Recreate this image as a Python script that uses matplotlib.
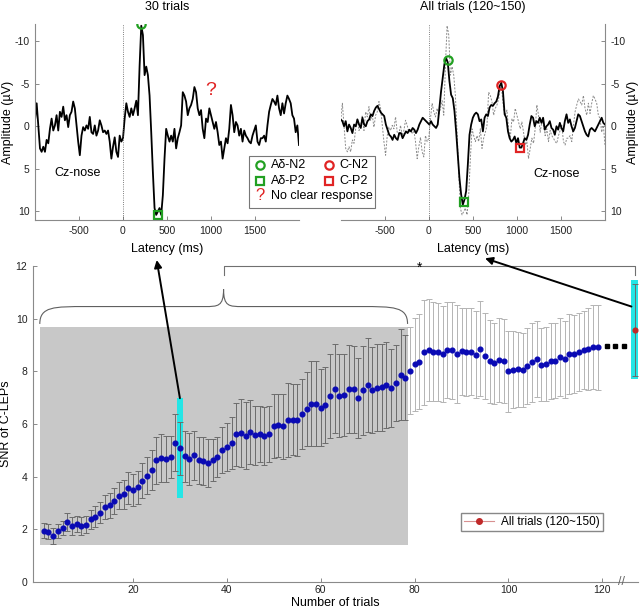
import numpy as np
import matplotlib
matplotlib.use('Agg')
import matplotlib.pyplot as plt
from matplotlib.path import Path
from matplotlib.patches import PathPatch, Rectangle
from matplotlib.lines import Line2D

plt.rcParams['font.family'] = ['Liberation Sans', 'DejaVu Sans']
plt.rcParams['axes.unicode_minus'] = False

# ---- data -------------------------------------------------------------
# 30-trial average waveform (uV), Cz-nose, -1000..2000 ms
amp_30 = [-0.7, -2.7, -0.1, 2.6, 3.0, 2.4, 3.0, 1.6, 2.0, 0.3,
          -0.9, 0.5, -0.1, -1.3, 0.5, -1.7, -1.1, -2.3, -0.7, -1.3,
          0.1, -1.3, -1.7, -2.9, -2.1, -0.1, 1.8, 3.4, 1.1, 0.1,
          0.5, -0.1, 0.3, -1.1, 0.7, 0.9, -0.1, 1.1, 0.5, -0.7,
          -0.1, 0.7, 0.5, 0.9, 0.5, 1.8, 3.8, 2.4, 1.3, 3.0,
          3.6, 1.1, 1.8, 1.4, -0.9, -2.7, -1.7, -1.1, -2.1, -1.3,
          -2.1, -3.0, -1.3, -7.1, -11.8, -10.7, -6.0, -7.0, -6.0, -3.6,
          0.7, 5.4, 9.6, 10.4, 10.0, 9.6, 10.4, 8.1, 3.8, 0.3,
          1.1, 1.8, 1.1, 1.8, 0.3, 2.6, 1.4, 0.7, -0.1, -4.0,
          -3.6, -2.9, -1.3, -2.1, -2.5, -3.2, -4.6, -4.0, -2.1, -1.3,
          -1.9, 0.3, 1.4, -0.9, -0.5, -2.1, -1.3, -0.5, 0.3, -0.5,
          0.7, 2.2, 1.8, 3.8, 2.6, 1.4, 2.0, 0.3, -2.5, -1.3,
          0.7, -0.5, -0.1, 1.1, 0.3, 1.8, 0.5, 1.1, 1.4, 1.8,
          2.0, 1.1, 0.5, -0.1, 1.8, 2.2, 1.4, 1.4, 1.1, 1.8,
          -0.1, -1.7, -2.5, -3.2, -2.9, -2.5, -3.6, -2.1, -1.3, -2.7,
          -1.5, -2.7, -3.6, -3.2, -2.7, -1.3, -0.9, 0.7, -0.1, 2.2]

# all-trial average waveform (uV)
amp_all = [-0.8, -0.6, 0.0, -0.6, 0.6, -0.2, 0.2, 0.8, -0.2, 0.0,
           -0.8, -0.2, 0.2, -1.0, -0.2, 0.0, -0.6, -0.8, -1.4, -1.2,
           -1.8, -2.2, -2.4, -2.0, -1.6, -1.4, -1.2, -0.2, 0.4, 1.0,
           1.2, 1.6, 1.0, 1.4, 1.6, 0.8, 0.8, 1.4, 1.0, 0.6,
           0.8, 0.4, 0.6, 0.2, 0.4, 0.8, 0.4, -0.2, -0.6, -1.0,
           -0.8, -0.6, -0.4, -0.2, -0.6, -0.2, 0.0, 0.2, -0.2, -2.2,
           -4.1, -5.7, -7.3, -8.0, -7.5, -5.3, -3.7, -3.3, -1.8, 0.6,
           3.3, 6.1, 8.0, 9.2, 8.6, 7.6, 4.5, 1.0, -0.2, -1.0,
           -1.4, -1.6, -1.4, -0.6, -0.8, 0.6, -1.0, -1.4, -1.2, -2.2,
           -2.5, -2.4, -2.7, -2.9, -3.5, -4.7, -5.1, -4.1, -1.4, -1.0,
           0.6, 1.4, 1.8, 1.6, 1.2, 2.0, 1.4, 2.5, 2.5, 2.0,
           1.4, 1.6, 1.0, -0.2, -1.2, -1.0, 0.0, -0.6, -0.4, -1.0,
           -0.4, -1.0, 0.4, 0.0, -0.2, -0.6, 0.2, 0.4, 1.0, 0.0,
           0.4, -0.4, 0.2, 0.6, -0.6, -1.4, -0.4, -0.8, 0.0, 0.6,
           0.2, -0.6, -1.4, -1.2, -0.6, 0.0, 0.6, 1.0, 1.2, 0.4,
           0.2, 0.4, 0.6, 0.2, -0.2, -0.6, -1.0, -0.4, -0.2]

lat_30 = np.linspace(-1000, 2000, len(amp_30))
lat_all = np.linspace(-1000, 2000, len(amp_all))

# peak markers (latency ms, amplitude uV)
n2_30 = (208, -12.0)
p2_30 = (398, 10.4)
n2_all = (220, -7.8)
p2_all = (397, 8.9)
cn2_all = (822, -4.9)
cp2_all = (1033, 2.6)

# SNR of C-LEPs vs number of trials
snr = [1.95, 1.91, 1.75, 1.95, 2.05, 2.29, 2.13, 2.20, 2.14, 2.18,
       2.38, 2.48, 2.63, 2.86, 2.91, 3.08, 3.28, 3.33, 3.56, 3.49,
       3.60, 3.85, 4.04, 4.25, 4.62, 4.71, 4.68, 4.75, 5.29, 5.08,
       4.77, 4.66, 4.81, 4.62, 4.61, 4.52, 4.62, 4.74, 5.01, 5.12,
       5.29, 5.61, 5.65, 5.56, 5.69, 5.57, 5.61, 5.55, 5.62, 5.92,
       5.95, 5.91, 6.15, 6.16, 6.15, 6.38, 6.58, 6.77, 6.77, 6.62,
       6.73, 7.05, 7.34, 7.08, 7.10, 7.33, 7.32, 7.00, 7.28, 7.48,
       7.29, 7.38, 7.39, 7.48, 7.37, 7.56, 7.87, 7.76, 8.03, 8.27,
       8.37, 8.72, 8.81, 8.75, 8.72, 8.65, 8.81, 8.80, 8.65, 8.76,
       8.74, 8.74, 8.63, 8.86, 8.58, 8.38, 8.30, 8.43, 8.38, 8.00,
       8.06, 8.08, 8.04, 8.20, 8.34, 8.46, 8.25, 8.28, 8.38, 8.41,
       8.53, 8.46, 8.65, 8.66, 8.75, 8.81, 8.86, 8.93, 8.91]
snr_err = [0.28, 0.29, 0.29, 0.27, 0.26, 0.34, 0.35, 0.32, 0.34, 0.32,
           0.36, 0.41, 0.40, 0.45, 0.48, 0.50, 0.52, 0.55, 0.60, 0.60,
           0.62, 0.66, 0.70, 0.76, 0.90, 0.92, 0.88, 0.80, 1.09, 1.01,
           0.98, 0.98, 0.92, 0.88, 0.91, 0.92, 0.80, 0.75, 0.87, 0.91,
           0.99, 1.20, 1.30, 1.28, 1.21, 1.11, 1.07, 1.11, 1.06, 1.22,
           1.19, 1.23, 1.40, 1.35, 1.36, 1.33, 1.41, 1.62, 1.62, 1.47,
           1.45, 1.60, 1.70, 1.58, 1.56, 1.67, 1.65, 1.52, 1.68, 1.80,
           1.62, 1.66, 1.65, 1.65, 1.47, 1.44, 1.73, 1.62, 1.64, 1.77,
           1.80, 1.99, 1.93, 1.87, 1.86, 1.83, 1.84, 1.85, 1.87, 1.66,
           1.68, 1.65, 1.66, 1.81, 1.62, 1.57, 1.55, 1.58, 1.59, 1.53,
           1.47, 1.43, 1.41, 1.43, 1.51, 1.45, 1.38, 1.42, 1.44, 1.41,
           1.48, 1.46, 1.52, 1.48, 1.48, 1.49, 1.56, 1.59, 1.61]
trials = np.arange(1, len(snr) + 1)

shade_trials = (0.15, 78.5)      # shaded window
shade_snr = (1.4, 9.67)
cyan_30 = (30, 3.18, 6.98)       # trial, low, high
all_x = 126.9                    # plotted position of "all trials" (after axis break)
all_snr, all_err = 9.57, 1.73
cyan_all = (7.7, 11.47)
dots_x = [121.0, 122.8, 124.6]   # continuation dots
dots_y = 8.96

green = '#22a022'
red = '#e02424'
spine_c = '#8a8a8a'

fig = plt.figure(figsize=(6.4, 6.12), dpi=100)
ax1 = fig.add_axes([35/640, 1-220/612, 264/640, 196/612])
ax2 = fig.add_axes([340.7/640, 1-220/612, 264.3/640, 196/612])
ax3 = fig.add_axes([33/640, 1-582/612, 605/640, 316/612])

def style(ax):
    for s in ax.spines.values():
        s.set_color(spine_c)
        s.set_linewidth(0.8)
    ax.tick_params(direction='in', length=3, width=0.7, color=spine_c,
                   labelsize=7.5, labelcolor='#222222', pad=4)

# ---- top left ---------------------------------------------------------
style(ax1)
ax1.plot(lat_30, amp_30, color='k', lw=1.3)
ax1.axvline(0, color='#555555', lw=0.6, ls=':')
ax1.plot(*n2_30, 'o', ms=6, mfc='none', mec=green, mew=1.6)
ax1.plot(*p2_30, 's', ms=6, mfc='none', mec=green, mew=1.6, clip_on=False)
ax1.text(1000, -4.2, '?', color=red, fontsize=14, ha='center', va='center')
ax1.text(-520, 5.5, 'Cz-nose', fontsize=9, ha='center', va='center')
ax1.set_xlim(-1000, 2000)
ax1.set_ylim(11, -12)
ax1.set_xticks([-500, 0, 500, 1000, 1500])
ax1.set_yticks([-10, -5, 0, 5, 10])
ax1.spines['top'].set_visible(False)
ax1.spines['right'].set_visible(False)
ax1.set_xlabel('Latency (ms)', fontsize=9, labelpad=5)
ax1.set_ylabel('Amplitude (\u00b5V)', fontsize=9, labelpad=0)
ax1.set_title('30 trials', fontsize=9, pad=10)

# ---- top right --------------------------------------------------------
style(ax2)
ax2.plot(lat_30, amp_30, color='#8a8a8a', lw=0.7, ls=(0, (2, 1.5)))
ax2.plot(lat_all, amp_all, color='k', lw=1.3)
ax2.axvline(0, color='#555555', lw=0.6, ls=':')
ax2.plot(*n2_all, 'o', ms=6, mfc='none', mec=green, mew=1.6)
ax2.plot(*p2_all, 's', ms=6, mfc='none', mec=green, mew=1.6)
ax2.plot(*cn2_all, 'o', ms=6, mfc='none', mec=red, mew=1.6)
ax2.plot(*cp2_all, 's', ms=6, mfc='none', mec=red, mew=1.6)
ax2.text(1450, 5.6, 'Cz-nose', fontsize=9, ha='center', va='center')
ax2.set_xlim(-1000, 2000)
ax2.set_ylim(11, -12)
ax2.set_xticks([-500, 0, 500, 1000, 1500])
ax2.set_yticks([-10, -5, 0, 5, 10])
ax2.spines['top'].set_visible(False)
ax2.spines['left'].set_visible(False)
ax2.yaxis.tick_right()
ax2.yaxis.set_label_position('right')
ax2.set_xlabel('Latency (ms)', fontsize=9, labelpad=5)
ax2.set_ylabel('Amplitude (\u00b5V)', fontsize=9, labelpad=1)
ax2.set_title('All trials (120~150)', fontsize=9, pad=10)

# ---- bottom -----------------------------------------------------------
style(ax3)
ax3.tick_params(axis='x', pad=2.5)
ax3.add_patch(Rectangle((shade_trials[0], shade_snr[0]),
                        shade_trials[1] - shade_trials[0],
                        shade_snr[1] - shade_snr[0],
                        facecolor='#c8c8c8', edgecolor='none', zorder=0.5))
ax3.bar(cyan_30[0], cyan_30[2] - cyan_30[1], bottom=cyan_30[1], width=1.45,
        color='#25e6e6', zorder=1.5)
ax3.bar(all_x, cyan_all[1] - cyan_all[0], bottom=cyan_all[0], width=1.5,
        color='#25e6e6', zorder=1.5, clip_on=False)

inside = trials <= 78
snr_a = np.array(snr)
err_a = np.array(snr_err)
ax3.errorbar(trials[inside], snr_a[inside], yerr=err_a[inside], fmt='none',
             ecolor='#6c6c6c', elinewidth=0.7, capsize=2, capthick=0.7, zorder=2)
ax3.errorbar(trials[~inside], snr_a[~inside], yerr=err_a[~inside], fmt='none',
             ecolor='#b4b4b4', elinewidth=0.7, capsize=2, capthick=0.7, zorder=2)
ax3.plot(trials, snr, 'o', color='#0a0ab4', ms=3.4, zorder=3)
ax3.plot(dots_x, [dots_y] * len(dots_x), 's', color='k', ms=2.2, zorder=3,
         clip_on=False)
ax3.errorbar([all_x], [all_snr], yerr=[all_err], fmt='none', ecolor='#6c6c6c',
             elinewidth=0.7, capsize=2, capthick=0.7, zorder=2, clip_on=False)
ax3.plot(all_x, all_snr, 'o', color='#c02828', ms=3.4, zorder=3, clip_on=False)

ax3.set_xlim(-1.3, 127.6)
ax3.set_ylim(0, 12)
ax3.set_xticks([20, 40, 60, 80, 100, 120])
ax3.set_yticks([0, 2, 4, 6, 8, 10, 12])
ax3.spines['top'].set_visible(False)
ax3.spines['right'].set_visible(False)
ax3.set_xlabel('Number of trials', fontsize=9, labelpad=1)
ax3.set_ylabel('SNR of C-LEPs', fontsize=9, labelpad=3)
ax3.text(124.0, 0, '//', fontsize=9, color='#666666', ha='center',
         va='center', clip_on=False)

# curly brace over shaded window
x0, x1 = shade_trials
xm = 39.3
yb, yh, yt = 9.8, 10.46, 11.12
d, e = 10, 4
verts = [(x0, yb), (x0, yh), (x0 + d * 0.3, yh), (x0 + d, yh),
         (xm - e, yh),
         (xm - e * 0.3, yh), (xm, yh), (xm, yt),
         (xm, yh), (xm + e * 0.3, yh), (xm + e, yh),
         (x1 - d, yh),
         (x1 - d * 0.3, yh), (x1, yh), (x1, yb)]
codes = [Path.MOVETO, Path.CURVE4, Path.CURVE4, Path.CURVE4,
         Path.LINETO,
         Path.CURVE4, Path.CURVE4, Path.CURVE4,
         Path.CURVE4, Path.CURVE4, Path.CURVE4,
         Path.LINETO,
         Path.CURVE4, Path.CURVE4, Path.CURVE4]
ax3.add_patch(PathPatch(Path(verts, codes), fill=False, color='#606060', lw=0.8))

# significance bracket
ax3.plot([xm, xm, all_x, all_x], [11.66, 12, 12, 11.66], color='#707070',
         lw=0.8, clip_on=False)
ax3.text(81, 11.95, '*', fontsize=10, ha='center', va='center')

# bottom legend
h = Line2D([], [], color='#d89090', lw=0.8, marker='o', ms=4,
           mfc='#c02828', mec='#c02828')
ax3.legend(handles=[h], labels=['All trials (120~150)'], loc='lower right',
           bbox_to_anchor=(609/640, 1-537/612), bbox_transform=fig.transFigure,
           fontsize=8.5, fancybox=False, edgecolor='#888888', framealpha=1,
           handlelength=2.6, borderpad=0.25, handletextpad=0.6)

# ---- overlay: middle legend + arrows ----------------------------------
ov = fig.add_axes([0, 0, 1, 1], zorder=10)
ov.set_xlim(0, 640)
ov.set_ylim(612, 0)
ov.axis('off')
ov.patch.set_alpha(0)

ov.add_patch(Rectangle((249.3, 155.7), 125.7, 52.6, facecolor='white',
                       edgecolor='#777777', lw=0.8))
rows = [165, 180.7, 196]
ov.plot(260, rows[0], 'o', ms=6, mfc='none', mec=green, mew=1.6)
ov.plot(260, rows[1], 's', ms=6, mfc='none', mec=green, mew=1.6)
ov.text(260, rows[2], '?', color=red, fontsize=12, ha='center', va='center')
ov.plot(329.3, rows[0], 'o', ms=6, mfc='none', mec=red, mew=1.6)
ov.plot(329.3, rows[1], 's', ms=6, mfc='none', mec=red, mew=1.6)
for x, y, t in [(270.7, rows[0], 'A\u03b4-N2'), (270.7, rows[1], 'A\u03b4-P2'),
                (270.7, rows[2], 'No clear response'),
                (339, rows[0], 'C-N2'), (339, rows[1], 'C-P2')]:
    ov.text(x, y, t, fontsize=9, ha='left', va='center')

arrow = dict(arrowstyle='-|>', color='k', lw=1.4, mutation_scale=11,
             shrinkA=0, shrinkB=0)
ov.annotate('', xy=(156.7, 260), xytext=(30, cyan_30[2]),
            textcoords=ax3.transData, arrowprops=arrow)
ov.annotate('', xy=(485, 258.3), xytext=(all_x - 0.7, 10.46),
            textcoords=ax3.transData, arrowprops=arrow)

fig.savefig('out.png', dpi=100)
